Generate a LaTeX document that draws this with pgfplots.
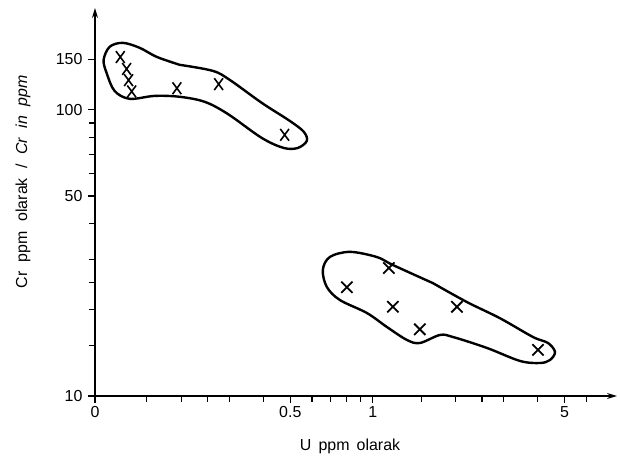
\documentclass[border=0pt]{standalone}
\usepackage{fontspec}
\setmainfont{Liberation Sans}
\usepackage{pgfplots}
\pgfplotsset{compat=1.18}
\usetikzlibrary{arrows.meta}

\begin{document}
\begin{tikzpicture}
\begin{loglogaxis}[
  scale only axis, width=522bp, height=388bp,
  xmin=0.097, xmax=7.77, ymin=10, ymax=227,
  axis lines=left,
  axis line style={line width=1.3bp},
  x axis line style={-{Stealth[length=10bp,width=6bp]}},
  y axis line style={-{Stealth[length=10bp,width=6bp]}},
  tick style={black, line width=1.1bp},
  major tick length=7bp, minor tick length=6bp,
  tick align=outside,
  xtick={0.097,0.5,1,5}, xticklabels={0,0.5,1,5},
  minor xtick={0.15,0.2,0.25,0.3,0.4,0.6,0.7,0.8,0.9,1.5,2,2.5,3,4,6},
  ytick={10,50,100,150}, yticklabels={10,50,100,150},
  minor ytick={15,20,25,30,40,60,70,80,90},
  yticklabel shift=2bp,
  ticklabel style={font=\fontsize{16}{19}\selectfont},
  label style={font=\fontsize{16}{19}\selectfont},
  xlabel={U\hspace{0.45em}ppm\hspace{0.45em}olarak},
  ylabel={Cr\hspace{0.6em}ppm\hspace{0.6em}olarak\hspace{0.6em}/\hspace{0.6em}\itshape Cr\hspace{0.6em}in\hspace{0.6em}ppm},
  xlabel style={at={(axis description cs:0.4885,-0.129)},anchor=center},
  ylabel style={at={(axis description cs:-0.138,0.552)},anchor=center},
  clip=false,
]
% upper group outline
\addplot[black, line width=2.4bp, smooth, tension=0.55, mark=none] coordinates {
(0.1975,143.7)(0.2607,136.9)(0.3007,127.3)(0.3935,105.8)(0.4979,91.5)
(0.5600,83.8)(0.5742,77.9)(0.5324,73.6)(0.4733,73.6)(0.3935,79.8)
(0.2957,96.8)(0.2436,106.7)(0.1975,111.1)(0.1601,111.9)(0.1297,109.3)
(0.1143,116.5)(0.1069,134.7)(0.1043,149.6)(0.1097,166.1)(0.1224,171.5)
(0.1411,164.8)(0.1628,153.2)(0.1975,143.7)
};
% lower group outline
\addplot[black, line width=2.4bp, smooth, tension=0.55, mark=none] coordinates {
(1.656,24.8)(2.203,21.3)(2.908,18.7)(3.836,16.08)(4.352,15.32)
(4.616,14.25)(4.426,13.36)(4.069,13.04)(3.439,13.26)(2.607,14.72)
(1.959,16.08)(1.756,16.34)(1.484,15.32)(1.331,15.70)(1.125,17.43)
(0.9508,19.51)(0.7578,21.66)(0.6796,24.05)(0.6570,27.57)(0.6966,30.6)
(0.8243,31.9)(1.034,30.6)(1.183,28.7)(1.656,24.8)
};
% upper group samples
\addplot[only marks, black, mark=x, mark size=6.2pt, mark options={line width=1.6bp, yscale=1.35}] coordinates {
(0.120,153)(0.1265,139)(0.1286,127)(0.132,116)(0.193,119)(0.274,123)(0.477,81.8)
};
% lower group samples
\addplot[only marks, black, mark=x, mark size=8pt, mark options={line width=1.8bp}] coordinates {
(0.804,24.0)(1.144,28.0)(1.183,20.5)(1.484,17.1)(2.026,20.5)(4.0,14.5)
};
\end{loglogaxis}
\path ([shift={(-95bp,-63bp)}]current axis.south west) rectangle ([shift={(3bp,8bp)}]current axis.north east);
\end{tikzpicture}
\end{document}
